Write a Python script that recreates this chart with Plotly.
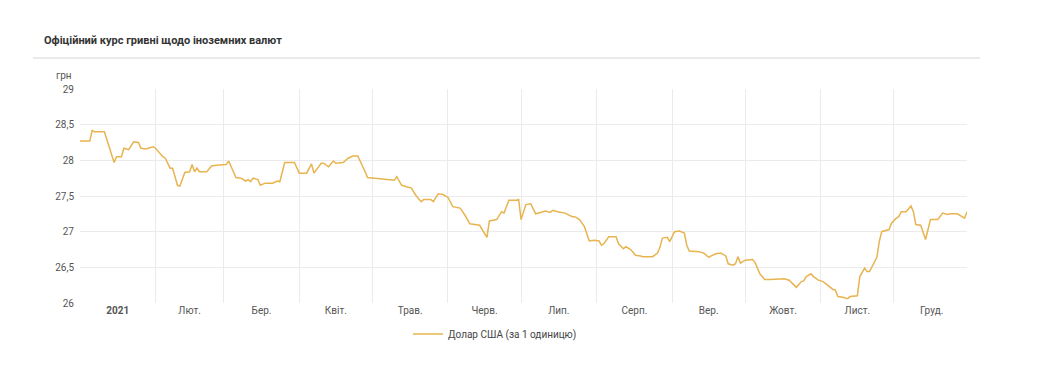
import plotly.graph_objects as go
import pandas as pd

dates = [
    "2021-01-01", "2021-01-05", "2021-01-06", "2021-01-07", "2021-01-11", "2021-01-13", "2021-01-15",
    "2021-01-16", "2021-01-18", "2021-01-19", "2021-01-21", "2021-01-23", "2021-01-25", "2021-01-26",
    "2021-01-28", "2021-01-31", "2021-02-01", "2021-02-04", "2021-02-05", "2021-02-07", "2021-02-08",
    "2021-02-10", "2021-02-11", "2021-02-13", "2021-02-15", "2021-02-16", "2021-02-17", "2021-02-18",
    "2021-02-19", "2021-02-22", "2021-02-24", "2021-02-26", "2021-03-02", "2021-03-03", "2021-03-06",
    "2021-03-08", "2021-03-10", "2021-03-11", "2021-03-12", "2021-03-13", "2021-03-15", "2021-03-16",
    "2021-03-18", "2021-03-21", "2021-03-23", "2021-03-24", "2021-03-26", "2021-03-30", "2021-04-01",
    "2021-04-04", "2021-04-06", "2021-04-07", "2021-04-10", "2021-04-11", "2021-04-13", "2021-04-15",
    "2021-04-16", "2021-04-19", "2021-04-21", "2021-04-23", "2021-04-25", "2021-04-28", "2021-04-29",
    "2021-05-02", "2021-05-04", "2021-05-10", "2021-05-11", "2021-05-13", "2021-05-15", "2021-05-17",
    "2021-05-19", "2021-05-21", "2021-05-22", "2021-05-25", "2021-05-26", "2021-05-28", "2021-05-30",
    "2021-06-01", "2021-06-03", "2021-06-06", "2021-06-08", "2021-06-10", "2021-06-12", "2021-06-14",
    "2021-06-17", "2021-06-18", "2021-06-21", "2021-06-23", "2021-06-24", "2021-06-26", "2021-06-29",
    "2021-06-30", "2021-07-01", "2021-07-03", "2021-07-05", "2021-07-07", "2021-07-09", "2021-07-11",
    "2021-07-13", "2021-07-14", "2021-07-16", "2021-07-19", "2021-07-22", "2021-07-23", "2021-07-25",
    "2021-07-27", "2021-07-29", "2021-07-31", "2021-08-02", "2021-08-03", "2021-08-04", "2021-08-06",
    "2021-08-09", "2021-08-10", "2021-08-12", "2021-08-13", "2021-08-15", "2021-08-17", "2021-08-19",
    "2021-08-20", "2021-08-24", "2021-08-26", "2021-08-27", "2021-08-28", "2021-08-30", "2021-08-31",
    "2021-09-02", "2021-09-04", "2021-09-06", "2021-09-07", "2021-09-08", "2021-09-10", "2021-09-12",
    "2021-09-14", "2021-09-16", "2021-09-17", "2021-09-19", "2021-09-21", "2021-09-23", "2021-09-24",
    "2021-09-26", "2021-09-27", "2021-09-28", "2021-09-29", "2021-10-01", "2021-10-04", "2021-10-05",
    "2021-10-07", "2021-10-09", "2021-10-11", "2021-10-14", "2021-10-17", "2021-10-19", "2021-10-21",
    "2021-10-22", "2021-10-24", "2021-10-25", "2021-10-26", "2021-10-28", "2021-10-29", "2021-10-31",
    "2021-11-02", "2021-11-04", "2021-11-06", "2021-11-07", "2021-11-08", "2021-11-10", "2021-11-12",
    "2021-11-13", "2021-11-16", "2021-11-17", "2021-11-19", "2021-11-20", "2021-11-21", "2021-11-24",
    "2021-11-25", "2021-11-26", "2021-11-28", "2021-11-29", "2021-11-30", "2021-12-02", "2021-12-03",
    "2021-12-04", "2021-12-06", "2021-12-08", "2021-12-09", "2021-12-10", "2021-12-12", "2021-12-14",
    "2021-12-16", "2021-12-19", "2021-12-21", "2021-12-23", "2021-12-24", "2021-12-27", "2021-12-30",
    "2021-12-31",
]
usd_rate = [
    28.27, 28.27, 28.42, 28.40, 28.40, 28.17, 27.97,
    28.05, 28.05, 28.17, 28.15, 28.26, 28.25, 28.17,
    28.16, 28.19, 28.17, 28.05, 28.03, 27.89, 27.89,
    27.65, 27.64, 27.83, 27.84, 27.94, 27.84, 27.89,
    27.84, 27.84, 27.92, 27.93, 27.94, 27.99, 27.76,
    27.75, 27.71, 27.73, 27.70, 27.75, 27.73, 27.65,
    27.68, 27.68, 27.71, 27.70, 27.97, 27.97, 27.82,
    27.82, 27.95, 27.82, 27.96, 27.96, 27.91, 27.99,
    27.96, 27.97, 28.03, 28.06, 28.06, 27.84, 27.76,
    27.75, 27.74, 27.72, 27.77, 27.65, 27.63, 27.61,
    27.50, 27.42, 27.45, 27.45, 27.42, 27.53, 27.52,
    27.48, 27.35, 27.33, 27.23, 27.11, 27.10, 27.09,
    26.92, 27.15, 27.17, 27.28, 27.26, 27.44, 27.44,
    27.45, 27.17, 27.38, 27.39, 27.25, 27.27, 27.29,
    27.27, 27.30, 27.28, 27.26, 27.21, 27.21, 27.17,
    27.07, 26.87, 26.88, 26.87, 26.81, 26.83, 26.93,
    26.93, 26.83, 26.76, 26.79, 26.75, 26.67, 26.66,
    26.65, 26.65, 26.70, 26.78, 26.91, 26.92, 26.86,
    27.00, 27.01, 26.98, 26.81, 26.73, 26.73, 26.72,
    26.70, 26.64, 26.66, 26.69, 26.70, 26.66, 26.55,
    26.53, 26.55, 26.65, 26.56, 26.60, 26.61, 26.57,
    26.41, 26.33, 26.33, 26.34, 26.34, 26.32, 26.25,
    26.22, 26.30, 26.31, 26.37, 26.41, 26.37, 26.32,
    26.30, 26.25, 26.19, 26.18, 26.09, 26.08, 26.06,
    26.09, 26.10, 26.37, 26.49, 26.44, 26.44, 26.64,
    26.86, 27.00, 27.02, 27.03, 27.12, 27.19, 27.21,
    27.28, 27.28, 27.36, 27.28, 27.10, 27.09, 26.89,
    27.17, 27.17, 27.26, 27.24, 27.25, 27.25, 27.19,
    27.28,
]
month_labels = ["<b>2021</b>", "Лют.", "Бер.", "Квіт.", "Трав.", "Черв.", "Лип.",
                "Серп.", "Вер.", "Жовт.", "Лист.", "Груд."]
y_ticks = [26, 26.5, 27, 27.5, 28, 28.5, 29]

series_name = "Долар США (за 1 одиницю)"
title_text = "Офіційний курс гривні щодо іноземних валют"
unit_text = "грн"

W, H = 1048, 382
L, R, T, B = 80, 967, 89, 303
pw, ph = R - L, B - T


def px(x):
    return (x - L) / pw


def py(y):
    return (B - y) / ph


month_starts = pd.date_range("2021-01-01", periods=13, freq="MS")
month_mids = [month_starts[i] + (month_starts[i + 1] - month_starts[i]) / 2 for i in range(12)]

line_color = "#E7B450"
grid_color = "#EBEBEB"
text_color = "#555555"
font_family = "Roboto, Arial, sans-serif"

fig = go.Figure()
fig.add_trace(go.Scatter(
    x=pd.to_datetime(dates), y=usd_rate, mode="lines", name=series_name,
    line=dict(color=line_color, width=1.5),
))

fig.update_layout(
    width=W, height=H,
    margin=dict(l=L, r=W - R, t=T, b=H - B, pad=0),
    paper_bgcolor="white", plot_bgcolor="white",
    separators=", ",
    font=dict(family=font_family, size=10, color=text_color),
    showlegend=True,
    legend=dict(orientation="h", x=px(408), xanchor="left", y=py(334), yanchor="middle",
                font=dict(size=10, color="#444444"), itemwidth=30, bgcolor="rgba(0,0,0,0)"),
    xaxis=dict(
        type="date",
        range=["2021-01-01", "2021-12-31"],
        tickmode="array", tickvals=month_mids, ticktext=month_labels,
        showgrid=False, ticks="", showline=False, zeroline=False,
        tickfont=dict(size=10, color=text_color),
        minor=dict(tickmode="array", tickvals=list(month_starts[:12]), showgrid=True,
                   gridcolor=grid_color, gridwidth=1, ticks=""),
    ),
    yaxis=dict(
        range=[26, 29], tickmode="array", tickvals=y_ticks,
        showgrid=True, gridcolor=grid_color, gridwidth=1,
        zeroline=False, showline=False, ticks="",
        tickfont=dict(size=10, color=text_color), ticklabelstandoff=5,
    ),
    shapes=[dict(type="line", xref="paper", yref="paper",
                 x0=px(33), x1=px(980), y0=py(58), y1=py(58),
                 line=dict(color="#E3E3E3", width=1.5))],
    annotations=[
        dict(text="<b>" + title_text + "</b>", xref="paper", yref="paper",
             x=px(42), y=py(41), xanchor="left", yanchor="middle", showarrow=False,
             font=dict(size=11, color="#333333", family=font_family)),
        dict(text=unit_text, xref="paper", yref="paper",
             x=px(54), y=py(75), xanchor="left", yanchor="middle", showarrow=False,
             font=dict(size=10, color=text_color, family=font_family)),
    ],
)

fig.write_html("out.html")
